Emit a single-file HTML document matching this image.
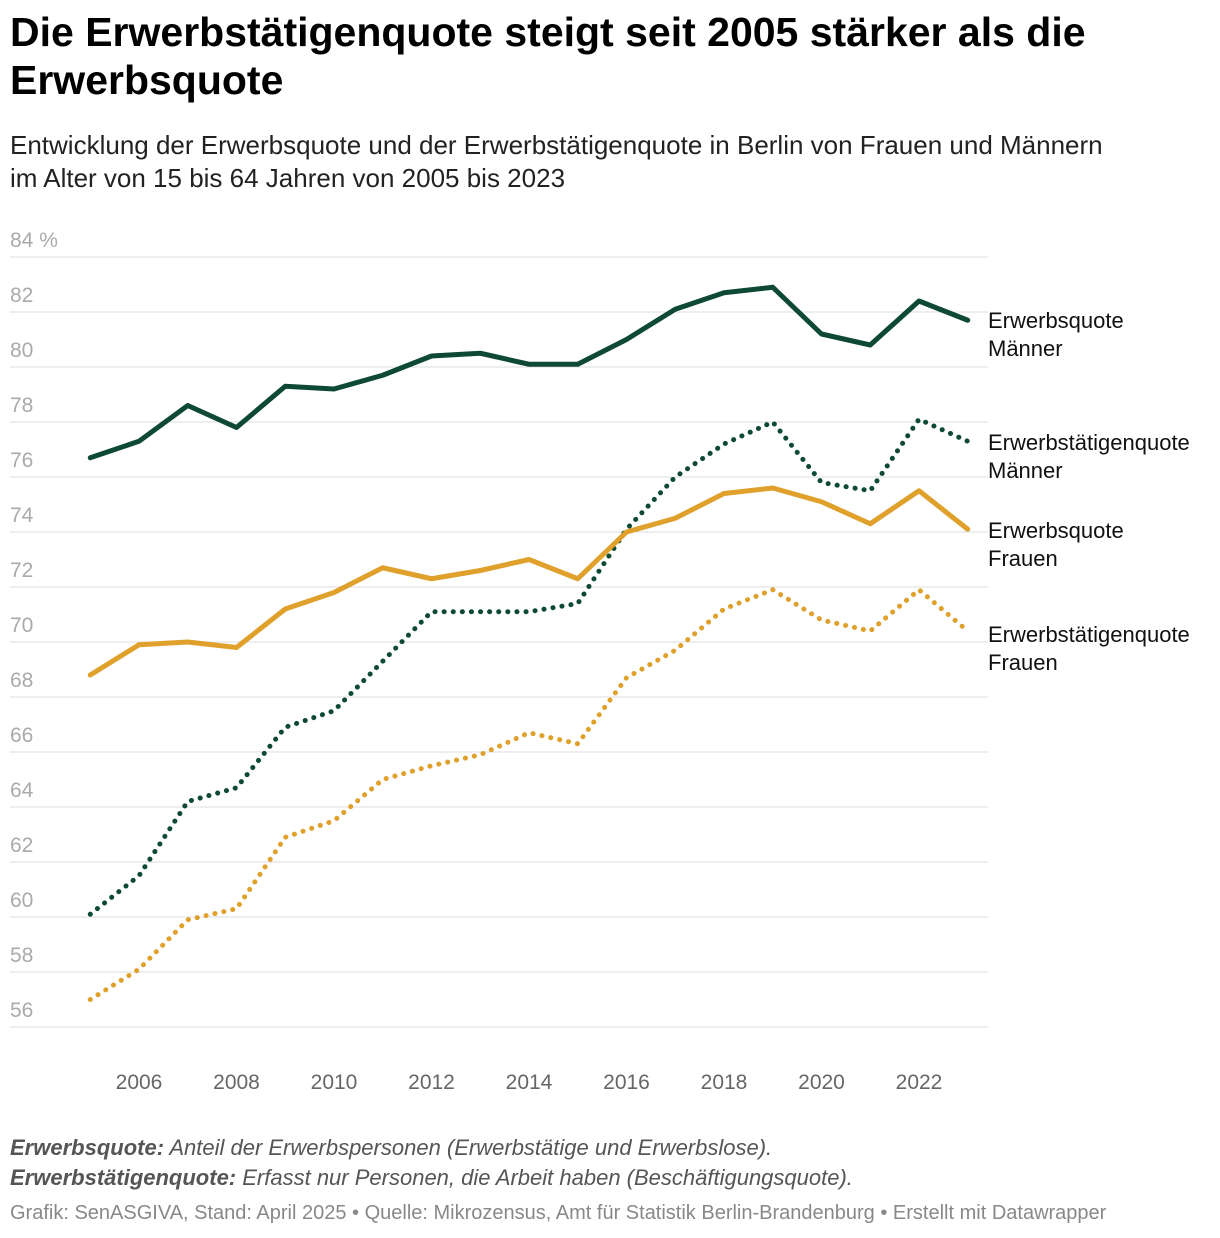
<!DOCTYPE html>
<html><head><meta charset="utf-8"><style>
body{margin:0;background:#fff;font-family:"Liberation Sans",sans-serif;width:1220px;height:1238px;overflow:hidden;position:relative}
h1{position:absolute;left:10px;top:8px;margin:0;font-size:41px;line-height:48px;font-weight:bold;color:#000;width:1200px}
.sub{position:absolute;left:10px;top:129px;font-size:26px;line-height:33px;color:#222;width:1210px;white-space:nowrap}
.notes{position:absolute;left:10px;top:1133px;font-size:22px;line-height:30px;color:#555;font-style:italic}
.src{position:absolute;left:10px;top:1202px;font-size:20px;color:#888}
svg{position:absolute;left:0;top:0}
</style></head><body>
<h1>Die Erwerbstätigenquote steigt seit 2005 stärker als die Erwerbsquote</h1>
<div class="sub">Entwicklung der Erwerbsquote und der Erwerbstätigenquote in Berlin von Frauen und Männern<br>im Alter von 15 bis 64 Jahren von 2005 bis 2023</div>
<svg id="chart" width="1220" height="1238"></svg>
<div class="notes"><b>Erwerbsquote:</b> Anteil der Erwerbspersonen (Erwerbstätige und Erwerbslose).<br><b>Erwerbstätigenquote:</b> Erfasst nur Personen, die Arbeit haben (Beschäftigungsquote).</div>
<div class="src">Grafik: SenASGIVA, Stand: April 2025 • Quelle: Mikrozensus, Amt für Statistik Berlin-Brandenburg • Erstellt mit Datawrapper</div>
<script>
const years=[2005,2006,2007,2008,2009,2010,2011,2012,2013,2014,2015,2016,2017,2018,2019,2020,2021,2022,2023];
const eqMaenner=[76.7,77.3,78.6,77.8,79.3,79.2,79.7,80.4,80.5,80.1,80.1,81.0,82.1,82.7,82.9,81.2,80.8,82.4,81.7];
const etqMaenner=[60.1,61.5,64.2,64.7,66.9,67.5,69.3,71.1,71.1,71.1,71.4,74.1,76.0,77.2,78.0,75.8,75.5,78.1,77.3];
const eqFrauen=[68.8,69.9,70.0,69.8,71.2,71.8,72.7,72.3,72.6,73.0,72.3,74.0,74.5,75.4,75.6,75.1,74.3,75.5,74.1];
const etqFrauen=[57.0,58.1,59.9,60.3,62.9,63.5,65.0,65.5,65.9,66.7,66.3,68.7,69.7,71.2,71.9,70.8,70.4,71.9,70.4];
const yTicks=[56,58,60,62,64,66,68,70,72,74,76,78,80,82,84];
const xTicks=[2006,2008,2010,2012,2014,2016,2018,2020,2022];
const NS="http://www.w3.org/2000/svg",svg=document.getElementById('chart');
const x=v=>90.25+(v-2005)*48.75, y=v=>1027-(v-56)*27.5;
function mk(t,a){const e=document.createElementNS(NS,t);for(const k in a)e.setAttribute(k,a[k]);svg.appendChild(e);return e;}
yTicks.forEach(v=>{
 const l=mk('line',{x1:10,x2:988,y1:y(v),y2:y(v),stroke:'#ddd','stroke-width':1});
 
 
 const t=mk('text',{x:10,y:y(v)-10,'font-size':21,fill:'#aaa','font-family':'Liberation Sans'});
 t.textContent=v===84?'84 %':v;
 
 
});
xTicks.forEach(v=>{
 const t=mk('text',{x:x(v),y:1089,'font-size':21,fill:'#666','text-anchor':'middle','font-family':'Liberation Sans'});
 t.textContent=v;
 
 
});
const series=[
 {d:eqMaenner,c:'#0e4a33',dash:null,lab:['Erwerbsquote','Männer'],ly:320,n:'erwerbsquote-maenner'},
 {d:etqMaenner,c:'#0e4a33',dash:'0.1 9',lab:['Erwerbstätigenquote','Männer'],ly:442,n:'erwerbstaetigenquote-maenner'},
 {d:eqFrauen,c:'#dfa12b',dash:null,lab:['Erwerbsquote','Frauen'],ly:530,n:'erwerbsquote-frauen'},
 {d:etqFrauen,c:'#dfa12b',dash:'0.1 9',lab:['Erwerbstätigenquote','Frauen'],ly:634,n:'erwerbstaetigenquote-frauen'}];
series.forEach(s=>{
 const p=mk('path',{d:s.d.map((v,i)=>(i?'L':'M')+x(years[i])+','+y(v)).join(''),fill:'none',stroke:s.c,'stroke-width':5,'stroke-linejoin':'round','stroke-linecap':'round'});
 if(s.dash)p.setAttribute('stroke-dasharray',s.dash);
 
 
 s.lab.forEach((t,i)=>{
  const e=mk('text',{x:988,y:s.ly+8+i*28,'font-size':22,fill:'#111','font-family':'Liberation Sans'});
  e.textContent=t;
  
  
 });
});
</script>
</body></html>
